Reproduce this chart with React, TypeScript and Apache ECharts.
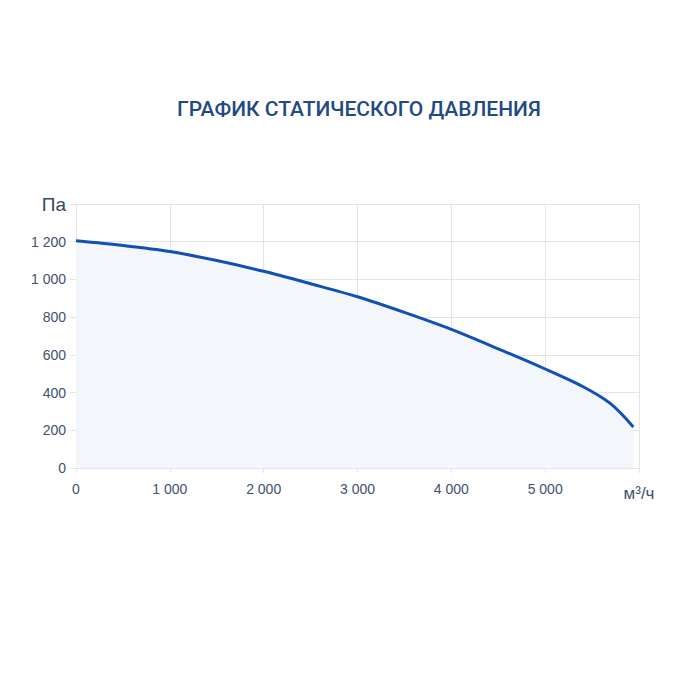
import React, { useEffect, useRef } from "react";
import * as echarts from "echarts";

const flowValues = [0, 500, 1000, 1500, 2000, 2500, 3000, 3500, 4000, 4500, 5000, 5400, 5700, 5940];
const pressureValues = [1205, 1180, 1148, 1100, 1043, 977, 908, 825, 735, 632, 525, 432, 340, 218];
const titleText = "ГРАФИК СТАТИЧЕСКОГО ДАВЛЕНИЯ";
const xUnit = "м³/ч";
const yUnit = "Па";

const fmt = (v: number) => String(v).replace(/\B(?=(\d{3})+(?!\d))/g, " ");

export default function App() {
  const ref = useRef<HTMLDivElement>(null);
  useEffect(() => {
    if (!ref.current) return;
    const chart = echarts.init(ref.current, null, { renderer: "svg" });
    const labelColor = "#3f5070";
    const gridColor = "#e2e5eb";
    chart.setOption({
      animation: false,
      backgroundColor: "#ffffff",
      title: {
        text: titleText,
        left: 172,
        top: 93,
        textStyle: {
          fontFamily: "Roboto",
          fontWeight: 500,
          fontSize: 21,
          color: "#1f4a85",
        },
      },
      grid: { left: 76, right: 61, top: 204, bottom: 232, containLabel: false },
      xAxis: {
        type: "value",
        min: 0,
        max: 6000,
        interval: 1000,
        axisLine: { show: true, lineStyle: { color: gridColor } },
        axisTick: { show: true, length: 5, lineStyle: { color: gridColor } },
        splitLine: { show: true, lineStyle: { color: gridColor } },
        axisLabel: {
          margin: 14,
          color: labelColor,
          fontFamily: "Liberation Sans",
          fontSize: 14,
          formatter: (v: number) => (v === 6000 ? "{u|" + xUnit + "}" : fmt(v)),
          rich: { u: { fontSize: 17, color: labelColor, fontFamily: "Liberation Sans", padding: [3, 0, 0, 0] } },
        },
      },
      yAxis: {
        type: "value",
        min: 0,
        max: 1400,
        interval: 200,
        axisLine: { show: true, lineStyle: { color: gridColor } },
        axisTick: { show: true, length: 6, lineStyle: { color: gridColor } },
        splitLine: { show: true, lineStyle: { color: gridColor } },
        axisLabel: {
          margin: 10,
          color: labelColor,
          fontFamily: "Liberation Sans",
          fontSize: 14,
          formatter: (v: number) => (v === 1400 ? "{u|" + yUnit + "}" : fmt(v)),
          rich: { u: { fontSize: 19, color: "#34496b", fontFamily: "Liberation Sans" } },
        },
      },
      series: [
        {
          type: "line",
          smooth: 0.3,
          showSymbol: false,
          data: flowValues.map((x, i) => [x, pressureValues[i]]),
          lineStyle: { color: "#1150b4", width: 3 },
          areaStyle: { color: "#f3f6fb", opacity: 1 },
        },
      ],
    });
    return () => chart.dispose();
  }, []);
  return (
    <div
      ref={ref}
      style={{ position: "fixed", left: 0, top: 0, width: 700, height: 700 }}
    />
  );
}
